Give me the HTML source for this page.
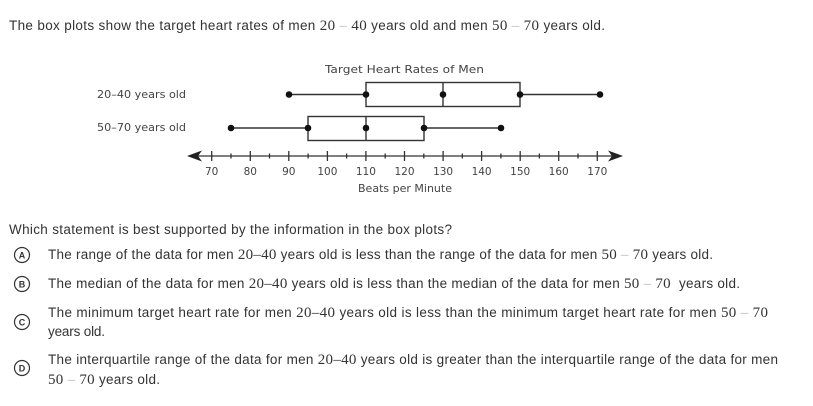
<!DOCTYPE html>
<html><head><meta charset="utf-8"><style>
html,body{margin:0;padding:0;background:#fff;}
svg{display:block;}
text{white-space:pre;}
.t{font-family:"Liberation Sans",sans-serif;font-size:13.5px;fill:#333;}
.m{font-family:"Liberation Serif",serif;font-size:15px;fill:#333;}
.d{font-family:"Liberation Serif",serif;font-size:15px;fill:#bbb;}
.c{font-family:"DejaVu Sans",sans-serif;font-size:11px;fill:#444;}
.k{font-family:"DejaVu Sans",sans-serif;font-size:10.5px;fill:#444;}
.l{font-family:"Liberation Sans",sans-serif;font-size:9px;font-weight:bold;fill:#333;}
</style></head><body>
<svg width="813" height="406" viewBox="0 0 813 406" xmlns="http://www.w3.org/2000/svg">
<rect width="813" height="406" fill="#fff"/>
<text class="t" x="9" y="30" textLength="596" lengthAdjust="spacing">The box plots show the target heart rates of men <tspan class="m">20</tspan><tspan class="d"> – </tspan><tspan class="m">40</tspan> years old and men <tspan class="m">50</tspan><tspan class="d"> – </tspan><tspan class="m">70</tspan> years old.</text>

<text class="c" x="325" y="73" textLength="159" lengthAdjust="spacingAndGlyphs">Target Heart Rates of Men</text>
<text class="c" x="97" y="98" textLength="89" lengthAdjust="spacingAndGlyphs">20–40 years old</text>
<text class="c" x="97" y="131" textLength="89" lengthAdjust="spacingAndGlyphs">50–70 years old</text>

<g stroke="#333" stroke-width="1.4" fill="none">
<line x1="289" y1="94.5" x2="366" y2="94.5"/>
<line x1="520" y1="94.5" x2="600" y2="94.5"/>
<rect x="366" y="82.5" width="154" height="24"/>
<line x1="443" y1="82.5" x2="443" y2="106.5"/>
<line x1="231" y1="128" x2="308" y2="128"/>
<line x1="424" y1="128" x2="501" y2="128"/>
<rect x="308" y="116.5" width="116" height="24"/>
<line x1="366" y1="116.5" x2="366" y2="140.5"/>
</g>
<g fill="#111">
<circle cx="289" cy="94.5" r="3.3"/><circle cx="366" cy="94.5" r="3.3"/><circle cx="443" cy="94.5" r="3.3"/><circle cx="520" cy="94.5" r="3.3"/><circle cx="600" cy="94.5" r="3.3"/>
<circle cx="231" cy="128" r="3.3"/><circle cx="308" cy="128" r="3.3"/><circle cx="366" cy="128" r="3.3"/><circle cx="424" cy="128" r="3.3"/><circle cx="501" cy="128" r="3.3"/>
</g>

<g stroke="#333" stroke-width="1.3">
<line x1="195" y1="156" x2="615" y2="156"/>
<line x1="211.7" y1="151" x2="211.7" y2="161"/>
<line x1="250.3" y1="151" x2="250.3" y2="161"/>
<line x1="288.8" y1="151" x2="288.8" y2="161"/>
<line x1="327.4" y1="151" x2="327.4" y2="161"/>
<line x1="365.9" y1="151" x2="365.9" y2="161"/>
<line x1="404.5" y1="151" x2="404.5" y2="161"/>
<line x1="443.1" y1="151" x2="443.1" y2="161"/>
<line x1="481.6" y1="151" x2="481.6" y2="161"/>
<line x1="520.2" y1="151" x2="520.2" y2="161"/>
<line x1="558.7" y1="151" x2="558.7" y2="161"/>
<line x1="597.3" y1="151" x2="597.3" y2="161"/>
<line x1="231" y1="153.5" x2="231" y2="158.5"/>
<line x1="269.5" y1="153.5" x2="269.5" y2="158.5"/>
<line x1="308.1" y1="153.5" x2="308.1" y2="158.5"/>
<line x1="346.6" y1="153.5" x2="346.6" y2="158.5"/>
<line x1="385.2" y1="153.5" x2="385.2" y2="158.5"/>
<line x1="423.8" y1="153.5" x2="423.8" y2="158.5"/>
<line x1="462.3" y1="153.5" x2="462.3" y2="158.5"/>
<line x1="500.9" y1="153.5" x2="500.9" y2="158.5"/>
<line x1="539.4" y1="153.5" x2="539.4" y2="158.5"/>
<line x1="578" y1="153.5" x2="578" y2="158.5"/>
</g>
<polygon points="187,156 202,150.5 198,156 202,161.5" fill="#222"/>
<polygon points="623,156 608,150.5 612,156 608,161.5" fill="#222"/>

<g class="k" text-anchor="middle">
<text x="211.7" y="175">70</text><text x="250.3" y="175">80</text><text x="288.8" y="175">90</text>
<text x="327.4" y="175">100</text><text x="365.9" y="175">110</text><text x="404.5" y="175">120</text>
<text x="443.1" y="175">130</text><text x="481.6" y="175">140</text><text x="520.2" y="175">150</text>
<text x="558.7" y="175">160</text><text x="597.3" y="175">170</text>
</g>
<text class="k" x="358" y="192" textLength="94" lengthAdjust="spacingAndGlyphs">Beats per Minute</text>

<text class="t" x="9" y="234" textLength="443" lengthAdjust="spacing">Which statement is best supported by the information in the box plots?</text>

<g fill="none" stroke="#333" stroke-width="1.2">
<circle cx="22" cy="255" r="7.5"/>
<circle cx="22" cy="284" r="7.5"/>
<circle cx="22" cy="322" r="7.5"/>
<circle cx="22" cy="368" r="7.5"/>
</g>
<g class="l" text-anchor="middle">
<text x="22" y="258.3">A</text><text x="22" y="287.3">B</text><text x="22" y="325.3">C</text><text x="22" y="371.3">D</text>
</g>

<text class="t" x="48" y="259" textLength="665" lengthAdjust="spacing">The range of the data for men <tspan class="m">20–40</tspan> years old is less than the range of the data for men <tspan class="m">50</tspan><tspan class="d"> – </tspan><tspan class="m">70</tspan> years old.</text>
<text class="t" x="48" y="288" textLength="692" lengthAdjust="spacing">The median of the data for men <tspan class="m">20–40</tspan> years old is less than the median of the data for men <tspan class="m">50</tspan><tspan class="d"> – </tspan><tspan class="m">70</tspan>  years old.</text>
<text class="t" x="48" y="317" textLength="720" lengthAdjust="spacing">The minimum target heart rate for men <tspan class="m">20–40</tspan> years old is less than the minimum target heart rate for men <tspan class="m">50</tspan><tspan class="d"> – </tspan><tspan class="m">70</tspan></text>
<text class="t" x="48" y="336" textLength="57" lengthAdjust="spacing">years old.</text>
<text class="t" x="48" y="364" textLength="730" lengthAdjust="spacing">The interquartile range of the data for men <tspan class="m">20–40</tspan> years old is greater than the interquartile range of the data for men</text>
<text class="t" x="48" y="384" textLength="112" lengthAdjust="spacing"><tspan class="m">50</tspan><tspan class="d"> – </tspan><tspan class="m">70</tspan> years old.</text>
</svg>
</body></html>
